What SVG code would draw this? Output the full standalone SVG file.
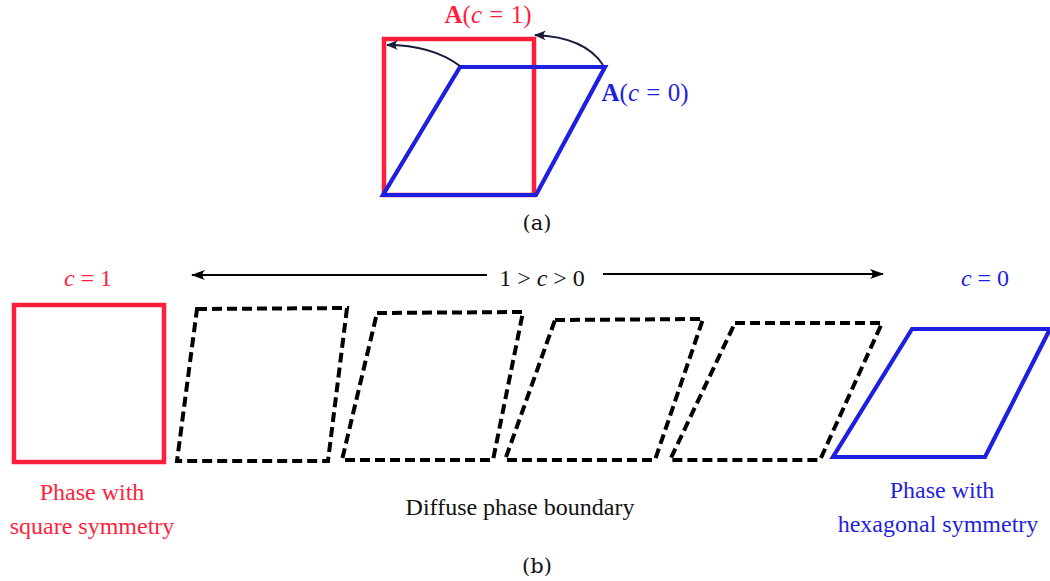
<svg xmlns="http://www.w3.org/2000/svg" width="1050" height="581" viewBox="0 0 1050 581">
<defs>
<style>
.t{font-family:"Liberation Serif","Times New Roman",serif;font-size:24px;text-anchor:middle}
.m{font-size:25px}
.red{fill:#ff1f3d}
.blue{fill:#1f1fe0}
.blk{fill:#111}
.cap{font-family:"DejaVu Serif",serif;font-size:21px}
.rs{fill:none;stroke:#ff1f3d;stroke-width:4.5}
.bs{fill:none;stroke:#1f1fe0;stroke-width:4.2}
.ds{fill:none;stroke:#000;stroke-width:4;stroke-dasharray:10 5}
.arc{fill:none;stroke:#1a1d3a;stroke-width:1.8}
.ln{fill:none;stroke:#000;stroke-width:1.8}
</style>
<marker id="ah" viewBox="0 0 12 10" refX="11" refY="5" markerWidth="12" markerHeight="10" markerUnits="userSpaceOnUse" orient="auto">
<path d="M0,0 Q5,5 0,10 L12,5 Z" fill="#1a1d3a"/>
</marker>
<marker id="ah2" viewBox="0 0 14 10" refX="13" refY="5" markerWidth="14" markerHeight="10" markerUnits="userSpaceOnUse" orient="auto">
<path d="M0,0 Q5,5 0,10 L14,5 Z" fill="#000"/>
</marker>
</defs>
<rect width="1050" height="581" fill="#fff"/>

<g id="panel-a">
<g id="a-square"><rect class="rs" x="384" y="39" width="150" height="156"/></g>
<g id="a-rhombus"><polygon class="bs" points="460,67 605,67 536,195 383,195"/></g>
<text class="t m red" x="488" y="23"><tspan font-weight="bold">A</tspan>(<tspan font-style="italic">c</tspan><tspan dx="1"> = </tspan><tspan dx="1">1)</tspan></text>
<text class="t m blue" x="645" y="101"><tspan font-weight="bold">A</tspan>(<tspan font-style="italic">c</tspan><tspan dx="1"> = </tspan><tspan dx="1">0)</tspan></text>
<text class="t blk cap" x="537" y="230">(a)</text>
</g>

<g id="connectors">
<path class="arc" d="M460,66 Q432,45 387,45" marker-end="url(#ah)"/>
<path class="arc" d="M603,65 Q585,37 535,35" marker-end="url(#ah)"/>
<path class="ln" d="M487,275 L192,275" marker-end="url(#ah2)"/>
<path class="ln" d="M603,274 L883,274" marker-end="url(#ah2)"/>
</g>

<g id="panel-b">
<g id="b-square"><rect class="rs" x="14" y="305" width="150" height="157"/></g>
<g id="b-dash1"><polygon class="ds" points="197,309 347,308 328,461 177,461"/></g>
<g id="b-dash2"><polygon class="ds" points="377,313 523,312 493,460 342,460"/></g>
<g id="b-dash3"><polygon class="ds" points="555,320 703,319 655,460 505,460"/></g>
<g id="b-dash4"><polygon class="ds" points="735,323 882,323 820,460 670,460"/></g>
<g id="b-rhombus"><polygon class="bs" points="912,329 1050,329 985,457 833,457"/></g>
<text class="t red" x="88" y="286"><tspan font-style="italic">c</tspan> = 1</text>
<text class="t blk" x="542" y="286">1 &gt; <tspan font-style="italic">c</tspan> &gt; 0</text>
<text class="t blue" x="985" y="286"><tspan font-style="italic">c</tspan> = 0</text>
<text class="t red" x="92" y="500">Phase with</text>
<text class="t red" x="92" y="534">square symmetry</text>
<text class="t blk" x="520" y="515">Diffuse phase boundary</text>
<text class="t blue" x="942" y="498">Phase with</text>
<text class="t blue" x="938" y="532">hexagonal symmetry</text>
<text class="t blk cap" x="537" y="573">(b)</text>
</g>
</svg>
